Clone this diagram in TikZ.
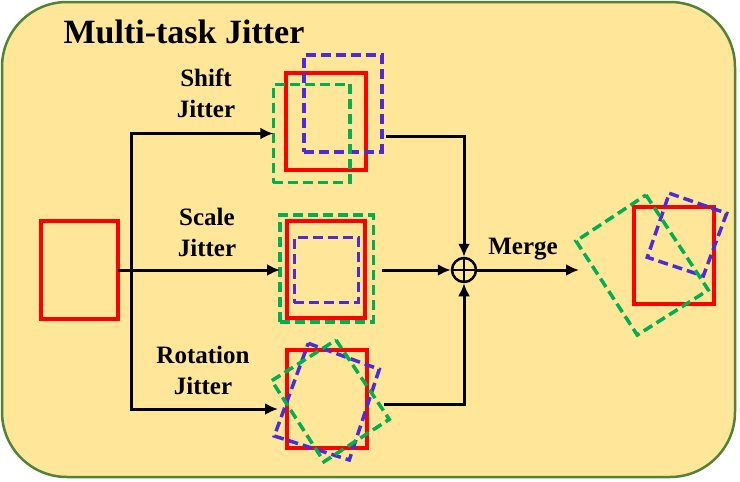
\documentclass[tikz,border=0pt]{standalone}
\usepackage{fontspec}
\setmainfont{Liberation Serif}
\usetikzlibrary{arrows.meta}
\definecolor{bgyel}{HTML}{FFE699}
\definecolor{bordgreen}{HTML}{538135}
\definecolor{jred}{HTML}{FF0000}
\definecolor{jblue}{HTML}{4A2DD8}
\definecolor{jgreen}{HTML}{00B050}
\tikzset{
  box/.style={rectangle, inner sep=0pt, outer sep=0pt},
  redbox/.style={box, draw=jred, line width=4pt},
  bluebox/.style={box, draw=jblue, line width=3.5pt, dash pattern=on 10pt off 5pt},
  greenbox/.style={box, draw=jgreen, line width=3.5pt, dash pattern=on 10pt off 5pt},
  bluedash/.style={draw=jblue, line width=3.5pt, dash pattern=on 10pt off 5pt},
  greendash/.style={draw=jgreen, line width=3.5pt, dash pattern=on 10pt off 5pt},
  conn/.style={draw=black, line width=3pt},
  arr/.style={conn, -{Latex[length=13pt,width=12pt]}},
  lbl/.style={font=\bfseries\fontsize{25pt}{31pt}\selectfont, align=center, inner sep=0pt},
  ttl/.style={font=\bfseries\fontsize{34pt}{40pt}\selectfont, inner sep=0pt},
  frame/.style={draw=bordgreen, line width=2.5pt, fill=bgyel, rounded corners=65pt},
}
\begin{document}
\begin{tikzpicture}[x=1pt,y=-1pt]
\useasboundingbox (0,0) rectangle (740,482);
\draw[frame] (2,2) rectangle (735,477);

\node[ttl, anchor=base] (title) at (184,43) {Multi-task Jitter};

% source box
\node[redbox, minimum width=77.6pt, minimum height=97.3pt] (src) at (79.5,270) {};

% shift jitter group
\node[redbox, minimum width=80pt, minimum height=97.3pt] (shiftR) at (325.7,121.4) {};
\node[bluebox, minimum width=77.7pt, minimum height=96.7pt] (shiftB) at (342.9,103.4) {};
\node[greenbox, minimum width=76.7pt, minimum height=98.4pt] (shiftG) at (311.7,133.5) {};

% scale jitter group
\node[greenbox, minimum width=93.3pt, minimum height=106.7pt] (scaleG) at (326.7,268.5) {};
\node[redbox, minimum width=77.7pt, minimum height=97.6pt] (scaleR) at (326.2,269.5) {};
\node[bluebox, minimum width=64pt, minimum height=65.4pt] (scaleB) at (326.3,270) {};

% rotation jitter group
\node[redbox, minimum width=80pt, minimum height=98.3pt] (rotR) at (326.7,399.2) {};
\draw[bluedash] (308.3,343.3) -- (379.3,369.3) -- (349.3,460) -- (274.3,436) -- cycle;
\draw[greendash] (336,340) -- (389.3,419.3) -- (324,461.7) -- (271.7,380.7) -- cycle;

% output group
\node[redbox, minimum width=80pt, minimum height=97.6pt] (outR) at (674,255.5) {};
\draw[bluedash] (669.3,193.3) -- (726.7,213.3) -- (703.3,276) -- (647.3,257.3) -- cycle;
\draw[greendash] (646,195) -- (708.3,290) -- (637.3,335) -- (576,241) -- cycle;

% labels
\node[lbl] (lshift) at (206,93.5) {Shift\\Jitter};
\node[lbl] (lscale) at (207,232) {Scale\\Jitter};
\node[lbl] (lrot) at (203,370) {Rotation\\Jitter};
\node[lbl, anchor=base] (lmerge) at (523,254) {Merge};

% merge symbol
\node[circle, draw=black, line width=2.5pt, minimum size=24pt, inner sep=0pt] (merge) at (464,270) {};
\draw[line width=2pt] (merge.north) -- (merge.south) (merge.west) -- (merge.east);

% connectors
\coordinate (split) at (131.7,270);
\coordinate (rotIn) at (278,409);
\coordinate (shiftOut) at (386,136);
\coordinate (scaleOut) at (382,270);
\coordinate (rotOut) at (384,404);
\coordinate (mergeEnd) at (579,270);

\draw[arr] (src.east) -- (scaleG.west |- src.east);
\draw[arr] (split) |- (shiftG.west);
\draw[arr] (split) |- (rotIn);
\draw[arr] (shiftOut) -| (merge.north);
\draw[arr] (scaleOut) -- (merge.west);
\draw[arr] (rotOut) -| (merge.south);
\draw[arr] (merge.east) -- (mergeEnd);
\end{tikzpicture}
\end{document}
